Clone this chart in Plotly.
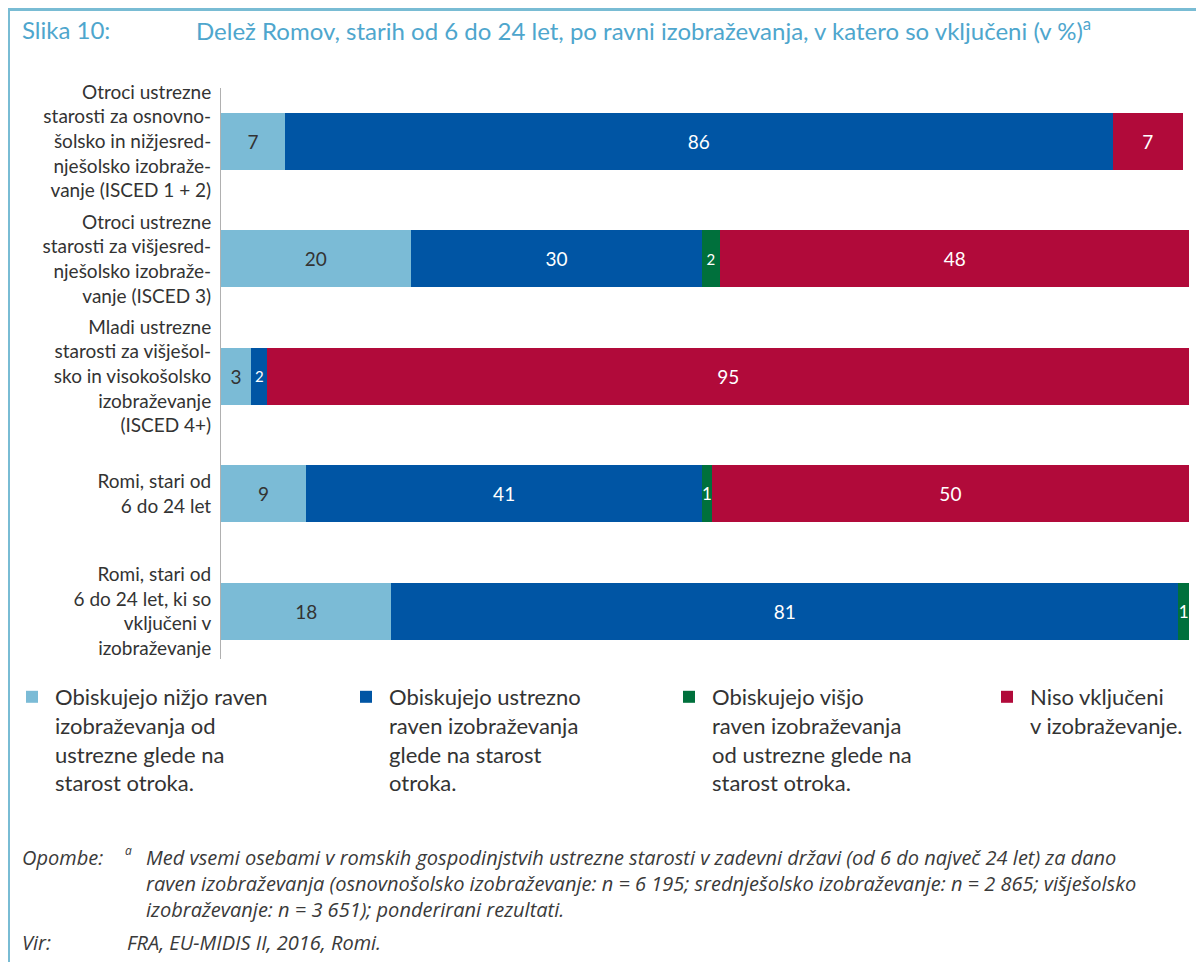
import plotly.graph_objects as go

# data
categories = [
    "Otroci ustrezne<br>starosti za osnovno-<br>šolsko in nižjesred-<br>nješolsko izobraže-<br>vanje (ISCED 1 + 2)",
    "Otroci ustrezne<br>starosti za višjesred-<br>nješolsko izobraže-<br>vanje (ISCED 3)",
    "Mladi ustrezne<br>starosti za višješol-<br>sko in visokošolsko<br>izobraževanje<br>(ISCED 4+)",
    "Romi, stari od<br>6 do 24 let",
    "Romi, stari od<br>6 do 24 let, ki so<br>vključeni v<br>izobraževanje",
]
lower_vals = [6.6, 19.6, 3.1, 8.8, 17.6]
lower_txt = ["7", "20", "3", "9", "18"]
approp_vals = [85.5, 30.1, 1.7, 40.9, 81.3]
approp_txt = ["86", "30", "2", "41", "81"]
higher_vals = [0, 1.8, 0, 1.0, 1.1]
higher_txt = ["", "2", "", "1", "1"]
notenr_vals = [7.3, 48.6, 95.2, 49.3, 0]
notenr_txt = ["7", "48", "95", "50", ""]

series_names = [
    "Obiskujejo nižjo raven<br>izobraževanja od<br>ustrezne glede na<br>starost otroka.",
    "Obiskujejo ustrezno<br>raven izobraževanja<br>glede na starost<br>otroka.",
    "Obiskujejo višjo<br>raven izobraževanja<br>od ustrezne glede na<br>starost otroka.",
    "Niso vključeni<br>v izobraževanje.",
]

FONT = "Lato"
NOTE_FONT = "Open Sans"
TXT = "#333333"
FRAME = "#79bcd4"
TITLE_COL = "#4ea6cd"

# plot area, in screen pixels (page body adds an 8px offset)
OFF = 8
L, R, T, B = 221, 1189, 88, 659


def px_x(px):
    return (px - L) / (R - L)


def px_y(py):
    return (B - py) / (B - T)


fig = go.Figure()
series = [
    (lower_vals, lower_txt, "#7bbbd6", TXT, [19, 19, 19, 19, 19]),
    (approp_vals, approp_txt, "#0055a4", "white", [19, 19, 15, 19, 19]),
    (higher_vals, higher_txt, "#00703c", "white", [15, 15, 15, 17, 17]),
    (notenr_vals, notenr_txt, "#b10a3a", "white", [19, 19, 19, 19, 19]),
]
legend_ids = ["legend", "legend2", "legend3", "legend4"]
legend_x = [9, 343, 666, 984]

for i, ((vals, txt, col, tcol, tsize), name) in enumerate(zip(series, series_names)):
    keep = [k for k, v in enumerate(vals) if v > 0]
    fig.add_trace(go.Bar(
        y=[categories[k] for k in keep], x=[vals[k] for k in keep],
        name=name, orientation="h", legend=legend_ids[i],
        marker=dict(color=col, line=dict(width=0)),
        text=[txt[k] for k in keep], textposition="inside", insidetextanchor="middle",
        constraintext="none",
        textfont=dict(family=FONT, color=tcol, size=[tsize[k] for k in keep]),
        hoverinfo="skip",
    ))

legend_style = dict(
    orientation="h", y=px_y(676), xanchor="left", yanchor="top", valign="top",
    font=dict(family=FONT, size=22, color=TXT), bgcolor="rgba(0,0,0,0)",
    itemwidth=36, itemclick=False, itemdoubleclick=False,
)
fig.update_layout(
    barmode="stack", bargap=0.515,
    width=1204, height=962,
    margin=dict(l=L - OFF, r=1204 - (R - OFF), t=T - OFF, b=962 - (B - OFF), autoexpand=False),
    paper_bgcolor="white", plot_bgcolor="white",
    font=dict(family=FONT, color=TXT),
    showlegend=True,
    legend=dict(x=px_x(legend_x[0]), **legend_style),
    legend2=dict(x=px_x(legend_x[1]), **legend_style),
    legend3=dict(x=px_x(legend_x[2]), **legend_style),
    legend4=dict(x=px_x(legend_x[3]), **legend_style),
)
fig.update_xaxes(range=[0, 100], visible=False, fixedrange=True)
fig.update_yaxes(
    type="category", range=[4.405, -0.455], showline=True, linecolor="#b0b0b0",
    linewidth=1, showgrid=False, ticks="", ticklabelstandoff=5, automargin=False,
    tickfont=dict(family=FONT, size=19, color=TXT), fixedrange=True,
)

# frame
fig.add_shape(type="line", xref="paper", yref="paper", x0=px_x(8.5), x1=px_x(1212),
              y0=px_y(9.5), y1=px_y(9.5), line=dict(color=FRAME, width=3))
fig.add_shape(type="line", xref="paper", yref="paper", x0=px_x(9), x1=px_x(9),
              y0=px_y(8), y1=px_y(970), line=dict(color=FRAME, width=2))

# title
fig.add_annotation(text="Slika 10:", xref="paper", yref="paper", x=px_x(20), y=px_y(29),
                   xanchor="left", yanchor="middle", showarrow=False,
                   font=dict(family=FONT, size=24, color=TITLE_COL))
fig.add_annotation(text="Delež Romov, starih od 6 do 24 let, po ravni izobraževanja, v katero so vključeni (v %)<sup>a</sup>",
                   xref="paper", yref="paper", x=px_x(194), y=px_y(29),
                   xanchor="left", yanchor="middle", showarrow=False,
                   font=dict(family=FONT, size=24, color=TITLE_COL))

# notes
NOTE = "#3a3a3a"
fig.add_annotation(text="<i>Opombe:</i>", xref="paper", yref="paper", x=px_x(20), y=px_y(857),
                   xanchor="left", yanchor="middle", showarrow=False,
                   font=dict(family=NOTE_FONT, size=20, color=NOTE))
fig.add_annotation(text="<i>a</i>", xref="paper", yref="paper", x=px_x(123), y=px_y(850),
                   xanchor="left", yanchor="middle", showarrow=False,
                   font=dict(family=NOTE_FONT, size=12, color=NOTE))
fig.add_annotation(
    text="<i>Med vsemi osebami v romskih gospodinjstvih ustrezne starosti v zadevni državi (od 6 do največ 24 let) za dano<br>"
         "raven izobraževanja (osnovnošolsko izobraževanje: n = 6 195; srednješolsko izobraževanje: n = 2 865; višješolsko<br>"
         "izobraževanje: n = 3 651); ponderirani rezultati.</i>",
    xref="paper", yref="paper", x=px_x(144), y=px_y(842),
    xanchor="left", yanchor="top", align="left", showarrow=False,
    font=dict(family=NOTE_FONT, size=20, color=NOTE))
fig.add_annotation(text="<i>Vir:</i>", xref="paper", yref="paper", x=px_x(20), y=px_y(942),
                   xanchor="left", yanchor="middle", showarrow=False,
                   font=dict(family=NOTE_FONT, size=20, color=NOTE))
fig.add_annotation(text="<i>FRA, EU-MIDIS II, 2016, Romi.</i>", xref="paper", yref="paper",
                   x=px_x(125), y=px_y(942), xanchor="left", yanchor="middle", showarrow=False,
                   font=dict(family=NOTE_FONT, size=20, color=NOTE))

fig.write_html("out.html")
